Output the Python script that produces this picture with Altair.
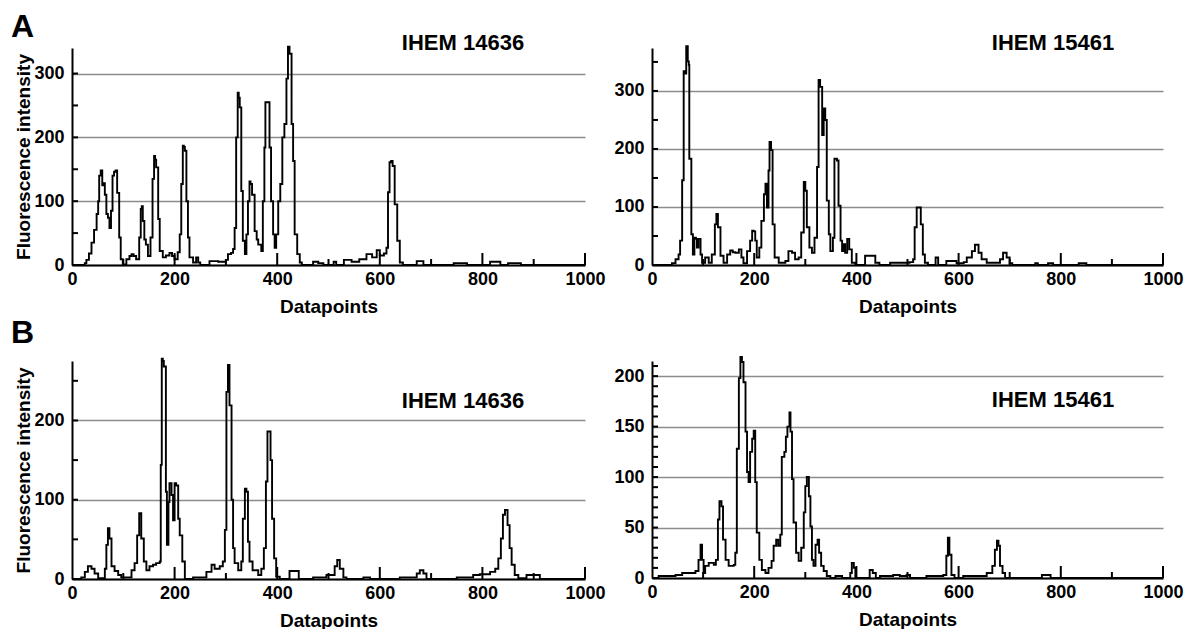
import altair as alt
import pandas as pd

FONT = "Liberation Sans"

# ---------------- data ----------------
# A, IHEM 14636
a1_x = [0, 25, 28, 33, 38, 43, 48, 51, 53, 56, 59, 62, 64, 67, 70, 73, 76, 79, 82, 85, 88, 92, 95, 99,
        106, 112, 116, 120, 125, 131, 134, 136, 138, 141, 144, 148, 153, 157, 160, 162, 164, 168, 171,
        177, 183, 190, 195, 200, 206, 210, 213, 216, 218, 220, 223, 226, 229, 236, 242, 246, 250, 268,
        285, 300, 304, 310, 314, 317, 320, 323, 325, 327, 330, 333, 337, 340, 343, 346, 348, 351, 356,
        360, 363, 369, 372, 375, 377, 382, 385, 388, 392, 395, 398, 402, 406, 410, 414, 418, 421, 424,
        428, 431, 434, 439, 444, 448, 470, 480, 490, 510, 515, 530, 545, 560, 574, 585, 594, 600, 608,
        613, 616, 619, 622, 625, 629, 634, 639, 645, 672, 685, 744, 770, 815, 835, 850, 875, 1000]
a1_y = [0, 3, 8, 18, 35, 55, 80, 100, 140, 148, 125, 128, 110, 80, 74, 58, 85, 140, 146, 148, 113, 43, 9, 1,
        9, 14, 17, 14, 9, 43, 88, 92, 69, 40, 32, 14, 43, 135, 171, 165, 153, 72, 22,
        12, 15, 19, 14, 9, 20, 48, 127, 187, 185, 179, 100, 43, 12, 4, 12, 4, 0, 6,
        5, 8, 17, 19, 25, 58, 200, 270, 262, 247, 116, 38, 17, 48, 100, 131, 127, 110, 53,
        40, 32, 22, 100, 184, 255, 255, 184, 100, 48, 27, 48, 100, 127, 200, 221, 292, 342, 331,
        221, 163, 48, 17, 4, 0, 5, 3, 0, 5, 0, 8, 5, 9, 17, 12, 23, 15, 18,
        27, 114, 161, 163, 155, 95, 38, 4, 0, 6, 0, 3, 0, 5, 0, 3, 0, 0]

# A, IHEM 15461
a2_x = [0, 39, 46, 52, 55, 59, 62, 65, 67, 70, 72, 73, 77, 80, 83, 86, 88, 91, 95, 98, 104, 111, 117, 123,
        126, 129, 134, 140, 147, 153, 158, 163, 170, 175, 179, 186, 192, 196, 199, 202, 205, 210, 214,
        219, 222, 225, 228, 230, 233, 236, 240, 248, 261, 267, 274, 280, 287, 292, 297, 300, 303, 308,
        313, 318, 323, 326, 329, 333, 336, 339, 342, 346, 349, 354, 357, 362, 365, 369, 372, 375, 378,
        382, 386, 391, 398, 417, 430, 437, 445, 466, 504, 511, 514, 518, 523, 526, 530, 534, 540, 555,
        560, 576, 596, 610, 616, 626, 632, 639, 645, 655, 675, 681, 687, 694, 700, 705, 750, 755, 775,
        785, 835, 850, 1000]
a2_y = [0, 3, 10, 18, 42, 146, 334, 330, 377, 351, 345, 183, 53, 18, 47, 45, 30, 45, 18, 4, 13, 4, 18, 70,
        88, 65, 16, 4, 18, 25, 22, 21, 27, 13, 3, 24, 42, 59, 58, 42, 13, 30, 76,
        122, 140, 99, 163, 212, 198, 70, 13, 4, 7, 24, 21, 10, 13, 56, 143, 128, 65, 30,
        21, 47, 169, 319, 307, 224, 270, 250, 111, 53, 24, 47, 183, 180, 102, 42, 24, 36, 21,
        45, 27, 4, 0, 16, 16, 4, 0, 4, 5, 10, 65, 99, 99, 70, 18, 4, 0, 13,
        0, 7, 3, 5, 13, 24, 35, 21, 10, 4, 4, 10, 21, 13, 3, 0, 3, 0, 3,
        0, 3, 0, 0]

# B, IHEM 14636
b1_x = [0, 18, 25, 31, 38, 44, 51, 60, 64, 67, 70, 73, 77, 83, 90, 96, 109, 116, 122, 127, 131, 135, 140,
        145, 151, 158, 164, 171, 173, 175, 177, 179, 183, 185, 188, 190, 194, 197, 200, 203, 207, 210,
        215, 220, 236, 255, 262, 272, 278, 288, 294, 298, 301, 304, 307, 311, 314, 317, 324, 330, 333,
        337, 340, 343, 346, 352, 363, 369, 374, 378, 381, 384, 387, 390, 394, 398, 405, 424, 437, 442,
        470, 490, 496, 512, 517, 522, 529, 535, 568, 581, 639, 659, 672, 678, 685, 691, 750, 776, 782,
        795, 815, 825, 831, 836, 840, 844, 849, 853, 857, 863, 870, 886, 912, 1000]
b1_y = [0, 2, 9, 16, 13, 7, 1, 1, 13, 43, 64, 51, 16, 10, 5, 2, 2, 11, 20, 55, 83, 51, 22,
        11, 16, 18, 20, 22, 144, 278, 275, 268, 110, 43, 97, 121, 106, 74, 121, 118, 76, 55,
        22, 0, 2, 2, 9, 18, 13, 16, 22, 62, 236, 270, 219, 100, 39, 20, 11, 22, 76,
        114, 110, 47, 22, 11, 5, 13, 39, 123, 186, 186, 150, 76, 26, 3, 0, 10, 10, 0,
        2, 2, 5, 16, 24, 13, 2, 0, 2, 0, 2, 2, 7, 11, 7, 0, 2, 2, 5,
        6, 9, 13, 26, 51, 81, 87, 68, 39, 18, 5, 1, 5, 0, 0]

# B, IHEM 15461
b2_x = [0, 13, 39, 46, 59, 85, 91, 95, 98, 101, 104, 111, 121, 125, 129, 132, 136, 139, 144, 150, 160, 163,
        166, 170, 173, 176, 179, 183, 186, 189, 192, 196, 199, 202, 205, 210, 215, 222, 228, 234, 238,
        243, 247, 251, 254, 259, 262, 265, 269, 271, 274, 277, 282, 287, 292, 297, 300, 303, 307, 310,
        313, 316, 320, 324, 327, 331, 336, 342, 349, 359, 372, 388, 391, 395, 398, 426, 432, 438, 446,
        472, 485, 498, 505, 537, 563, 570, 576, 579, 582, 586, 592, 609, 651, 655, 666, 671, 675, 678,
        681, 686, 691, 763, 776, 780, 1000]
b2_y = [0, 2, 2, 3, 5, 7, 18, 33, 18, 5, 12, 15, 13, 18, 58, 76, 71, 38, 18, 12, 13, 25,
        128, 198, 219, 214, 194, 145, 105, 95, 125, 138, 146, 95, 45, 18, 8, 5, 10, 17, 32,
        38, 32, 43, 120, 125, 140, 150, 164, 145, 98, 55, 25, 17, 30, 65, 91, 100, 81, 51,
        18, 12, 33, 38, 25, 12, 7, 2, 0, 2, 0, 5, 15, 10, 0, 8, 5, 0, 2,
        3, 2, 3, 0, 2, 2, 3, 22, 40, 23, 3, 0, 2, 2, 5, 12, 28, 37, 32,
        12, 5, 0, 3, 3, 0, 0]

x_labels = [0, 200, 400, 600, 800, 1000]
x_minor = [100, 300, 500, 700, 900]
x_major = [200, 400, 600, 800, 1000]
strain_labels = ["IHEM 14636", "IHEM 15461"]
row_letters = ["A", "B"]

# ---------------- panels ----------------
PW_L, PW_R = 513, 511
BIG_TICK, SMALL_TICK, Y_TICK = 12, 6, 6


def panel(xs, ys, width, height, ymax, ylabels, yticks, ytitle, strain, strain_xy, letter=None):
    df = pd.DataFrame({"x": xs, "y": ys})
    xs_ = alt.Scale(domain=[0, 1000], nice=False, zero=False)
    ys_ = alt.Scale(domain=[0, ymax], nice=False)
    line = alt.Chart(df).mark_line(interpolate="step-after", color="black", strokeWidth=1.9).encode(
        x=alt.X("x:Q", scale=xs_, axis=alt.Axis(values=x_labels, title="Datapoints", grid=False,
                                                  labelPadding=5, titlePadding=9, format="d",
                                                  labelFlush=False)),
        y=alt.Y("y:Q", scale=ys_, axis=alt.Axis(values=ylabels, title=ytitle, grid=True,
                                                  labelPadding=8, titlePadding=0, format="d",
                                                  labelFlush=False)),
    )
    # inward ticks drawn as short two-point line segments (one per tick)
    tk_x, tk_y, tk_id = [], [], []
    for i, v in enumerate(x_major + x_minor):
        ln = (BIG_TICK if v in x_major else SMALL_TICK) / height * ymax
        tk_x += [v, v]
        tk_y += [0, ln]
        tk_id += [f"x{i}", f"x{i}"]
    for i, v in enumerate(yticks):
        tk_x += [0, Y_TICK / width * 1000]
        tk_y += [v, v]
        tk_id += [f"y{i}", f"y{i}"]
    tdf = pd.DataFrame({"x": tk_x, "y": tk_y, "id": tk_id})
    ticks = alt.Chart(tdf).mark_line(color="black", strokeWidth=2).encode(
        x=alt.X("x:Q", scale=xs_), y=alt.Y("y:Q", scale=ys_), detail="id:N")
    lab = alt.Chart(pd.DataFrame({"t": [strain]})).mark_text(
        font=FONT, fontSize=22, fontWeight="bold", color="black", align="center", baseline="alphabetic"
    ).encode(text="t:N", x=alt.value(strain_xy[0]), y=alt.value(strain_xy[1]))
    layers = [line, ticks, lab]
    if letter is not None:
        let = alt.Chart(pd.DataFrame({"t": [letter[0]]})).mark_text(
            font=FONT, fontSize=32, fontWeight="bold", color="black", align="left", baseline="alphabetic"
        ).encode(text="t:N", x=alt.value(letter[1]), y=alt.value(letter[2]))
        layers.append(let)
    return alt.layer(*layers).properties(width=width, height=height)


A1 = panel(a1_x, a1_y, PW_L, 217, 340, [0, 100, 200, 300], list(range(50, 340, 50)),
           "Fluorescence intensity", strain_labels[0], (391, 2), (row_letters[0], -61, -11))
A2 = panel(a2_x, a2_y, PW_R, 217, 374, [0, 100, 200, 300], list(range(50, 374, 50)),
           None, strain_labels[1], (401, 2))
B1 = panel(b1_x, b1_y, PW_L, 218, 275, [0, 100, 200], list(range(50, 275, 50)),
           "Fluorescence intensity", strain_labels[0], (391, 47), (row_letters[1], -61, -18))
B2 = panel(b2_x, b2_y, PW_R, 217, 215, [0, 50, 100, 150, 200], list(range(10, 215, 10)),
           None, strain_labels[1], (401, 46))

chart = alt.concat(A1, A2, B1, B2, columns=2, spacing={"row": 96, "column": 67}, bounds="flush").properties(
    padding={"left": 3, "top": 3, "right": 0, "bottom": 0}
).configure_view(strokeWidth=0).configure_axis(
    labelFont=FONT, labelFontSize=18, labelFontWeight="bold", labelColor="black",
    titleFont=FONT, titleFontSize=19, titleFontWeight="bold", titleColor="black",
    domainColor="black", domainWidth=2, ticks=False,
    gridColor="#8c8c8c", gridWidth=1.3,
)

chart.save("out.html", embed_options={"renderer": "svg", "actions": False})
